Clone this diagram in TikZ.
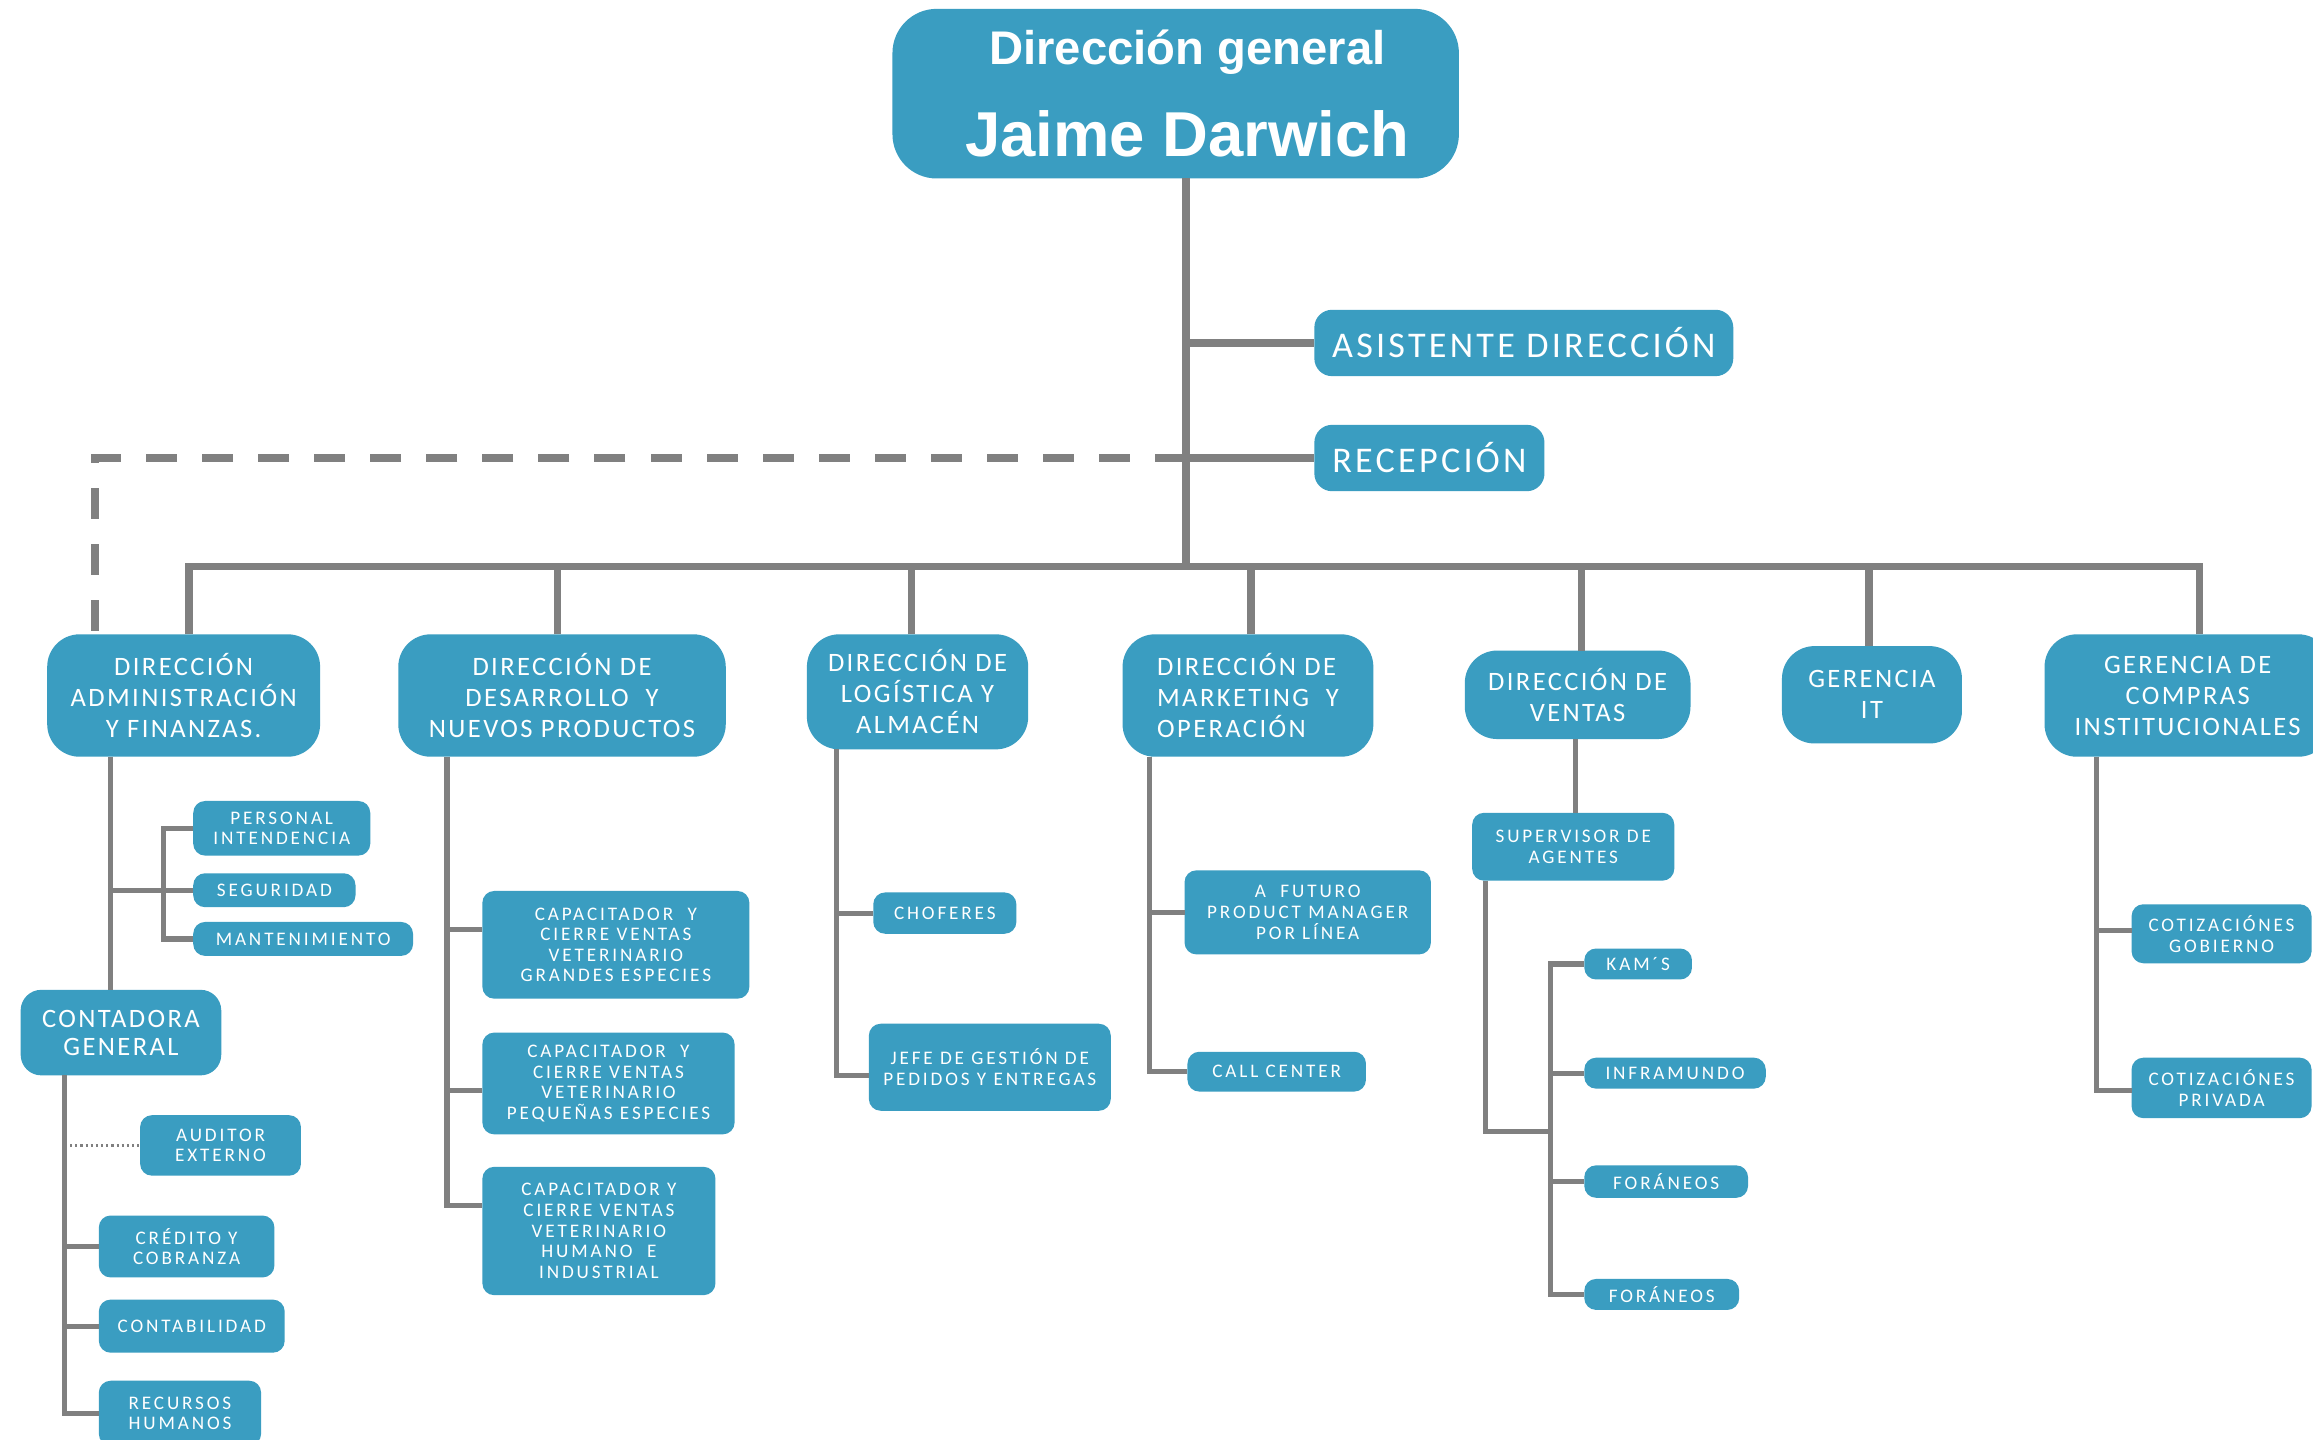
\documentclass[tikz,border=0pt]{standalone}
\usepackage{fontspec}
\setmainfont{Carlito}
\newfontfamily\hdfont{Liberation Sans}
\newfontfamily\lvfont[LetterSpace=9]{Carlito}
\newfontfamily\smfont[LetterSpace=15]{Carlito}
\usetikzlibrary{positioning}
\definecolor{boxblue}{RGB}{58,157,193}
\definecolor{linegray}{RGB}{128,128,128}
\tikzset{
  box/.style={fill=boxblue,text=white,align=center,inner sep=0pt,outer sep=0pt},
  head/.style={box,rounded corners=30pt,font=\hdfont\bfseries\fontsize{43}{50}\selectfont},
  big/.style={box,rounded corners=12pt,font=\lvfont\fontsize{24.5}{28}\selectfont},
  lvl/.style={box,rounded corners=22pt,font=\lvfont\fontsize{18}{21}\selectfont},
  mid/.style={box,rounded corners=14pt,font=\lvfont\fontsize{18}{19}\selectfont},
  sml/.style={box,rounded corners=8pt,font=\smfont\fontsize{13}{14}\selectfont},
  trunk/.style={draw=linegray,line width=5pt},
  sub/.style={draw=linegray,line width=3.5pt},
}
\begin{document}
\begin{tikzpicture}[x=1pt,y=-1pt]
\path[use as bounding box,fill=white] (0,0) rectangle (1568,976);

\node at(797,63.5)[head,minimum width=384,minimum height=115](dg){\hspace*{16pt}{\fontsize{32}{36}\selectfont Dirección general}\\[12pt]\hspace*{16pt}Jaime Darwich};
\node at(1033,232.5)[big,minimum width=284,minimum height=45](asi){ASISTENTE DIRECCIÓN};
\node at(969,310.5)[big,minimum width=156,minimum height=45](rec){RECEPCIÓN};

\node at(124.5,471.5)[lvl,minimum width=185,minimum height=83](adm){DIRECCIÓN\\ADMINISTRACIÓN\\Y FINANZAS.};
\node at(381,471.5)[lvl,minimum width=222,minimum height=83](des){DIRECCIÓN DE\\DESARROLLO~ Y\\NUEVOS PRODUCTOS};
\node at(622,469)[lvl,minimum width=150,minimum height=78](log){DIRECCIÓN DE\\LOGÍSTICA Y\\ALMACÉN};
\node at(846,471.5)[lvl,align=left,minimum width=170,minimum height=83](mkt){DIRECCIÓN DE\\MARKETING~ Y\\OPERACIÓN};
\node at(1069.5,471)[lvl,minimum width=153,minimum height=60](ven){DIRECCIÓN DE\\VENTAS};
\node at(1269,471)[lvl,minimum width=122,minimum height=66](git){GERENCIA\\IT};
\node at(1483,471.5)[lvl,minimum width=194,minimum height=83](com){GERENCIA DE\\COMPRAS\\INSTITUCIONALES};

\node at(191,561.5)[sml,minimum width=120,minimum height=37](pi){PERSONAL\\INTENDENCIA};
\node at(186,603.5)[sml,minimum width=110,minimum height=23](seg){SEGURIDAD};
\node at(205.5,636.5)[sml,minimum width=149,minimum height=23](mant){MANTENIMIENTO};
\node at(82,700)[mid,minimum width=136,minimum height=58](cg){CONTADORA\\GENERAL};
\node at(149.5,776.5)[sml,minimum width=109,minimum height=41](aud){AUDITOR\\EXTERNO};
\node at(126.5,845)[sml,minimum width=119,minimum height=42](cyc){CRÉDITO Y\\COBRANZA};
\node at(130,899)[sml,minimum width=126,minimum height=36](cont){CONTABILIDAD};
\node at(122,958)[sml,minimum width=110,minimum height=44](rh){RECURSOS\\HUMANOS};

\node at(417.5,640.5)[sml,minimum width=181,minimum height=73](cap1){CAPACITADOR~ Y\\CIERRE VENTAS\\VETERINARIO\\GRANDES ESPECIES};
\node at(412.5,734.5)[sml,minimum width=171,minimum height=69](cap2){CAPACITADOR~ Y\\CIERRE VENTAS\\VETERINARIO\\PEQUEÑAS ESPECIES};
\node at(406,834.5)[sml,minimum width=158,minimum height=87](cap3){CAPACITADOR Y\\CIERRE VENTAS\\VETERINARIO\\HUMANO~ E\\INDUSTRIAL};
\node at(640.5,619)[sml,minimum width=97,minimum height=28](cho){CHOFERES};
\node at(671,723.5)[sml,minimum width=164,minimum height=59](jefe){JEFE DE GESTIÓN DE\\PEDIDOS Y ENTREGAS};
\node at(886.5,618.5)[sml,minimum width=167,minimum height=57](afut){A~ FUTURO\\PRODUCT MANAGER\\POR LÍNEA};
\node at(865.5,726.5)[sml,minimum width=121,minimum height=27](call){CALL CENTER};
\node at(1066.5,574)[sml,minimum width=137,minimum height=46](sup){SUPERVISOR DE\\AGENTES};
\node at(1110.5,653.5)[sml,minimum width=73,minimum height=21](kam){KAM´S};
\node at(1135.5,727.5)[sml,minimum width=123,minimum height=21](inf){INFRAMUNDO};
\node at(1129.5,801)[sml,minimum width=111,minimum height=22](for1){FORÁNEOS};
\node at(1126.5,877.5)[sml,minimum width=105,minimum height=21](for2){FORÁNEOS};
\node at(1506,633)[sml,minimum width=122,minimum height=40](cot1){COTIZACIÓNES\\GOBIERNO};
\node at(1506,737.5)[sml,minimum width=122,minimum height=41](cot2){COTIZACIÓNES\\PRIVADA};

\coordinate (bus) at (804,384);
\draw[trunk] ([xshift=7]dg.south) -- (bus);
\draw[trunk] (bus |- asi.west) -- (asi.west);
\draw[trunk] (bus |- rec.west) -- (rec.west);
\draw[trunk,dash pattern=on 21pt off 17pt] (bus |- rec.west) -| ([xshift=-60]adm.north);
\draw[trunk,line cap=rect] ([xshift=3.5]adm.north |- bus) -- ([xshift=8]com.north |- bus);
\foreach \n/\d in {adm/3.5,des/-3,log/-4,mkt/2,ven/2.5,git/-2,com/8}
  \draw[trunk] ([xshift=\d]\n.north) -- ([xshift=\d]\n.north |- bus);

\draw[sub] ([xshift=-49.5]adm.south) coordinate(sa) -- (sa |- cg.north);
\draw[sub] (sa |- seg.west) -- (seg.west);
\draw[sub] (pi.west) -- ++(-20,0) |- (mant.west);
\draw[sub] ([xshift=-38]cg.south) coordinate(sc) |- (rh.west);
\foreach \n in {cyc,cont}
  \draw[sub] (sc |- \n.west) -- (\n.west);
\draw[linegray,line width=1.5pt,dotted] (sc |- aud.west) -- (aud.west);

\draw[sub] ([xshift=-78]des.south) |- ([yshift=17.5]cap3.west);
\draw[sub] ([yshift=10.5]cap1.west) -- ++(-24,0);
\draw[sub] ([yshift=-4.5]cap2.west) -- ++(-24,0);

\draw[sub] ([xshift=-55]log.south) |- ([yshift=-5.5]jefe.west);
\draw[sub] (cho.west) -- ++(-25,0);

\draw[sub] ([xshift=-67]mkt.south) |- (call.west);
\draw[sub] (afut.west) -- ++(-24,0);

\draw[sub] ([xshift=-1.5]ven.south) -- ([xshift=-1.5]ven.south |- sup.north);
\draw[sub] ([xshift=-59.5]sup.south) |- ++(44,170);
\draw[sub] (kam.west) -- ++(-23,0) |- (for2.west);
\foreach \n in {inf,for1}
  \draw[sub] (\n.west) -- ++(-23,0);

\draw[sub] ([xshift=-62]com.south) |- ([yshift=-1.5]cot2.west);
\draw[sub] ([yshift=2]cot1.west) -- ++(-24,0);
\end{tikzpicture}
\end{document}
